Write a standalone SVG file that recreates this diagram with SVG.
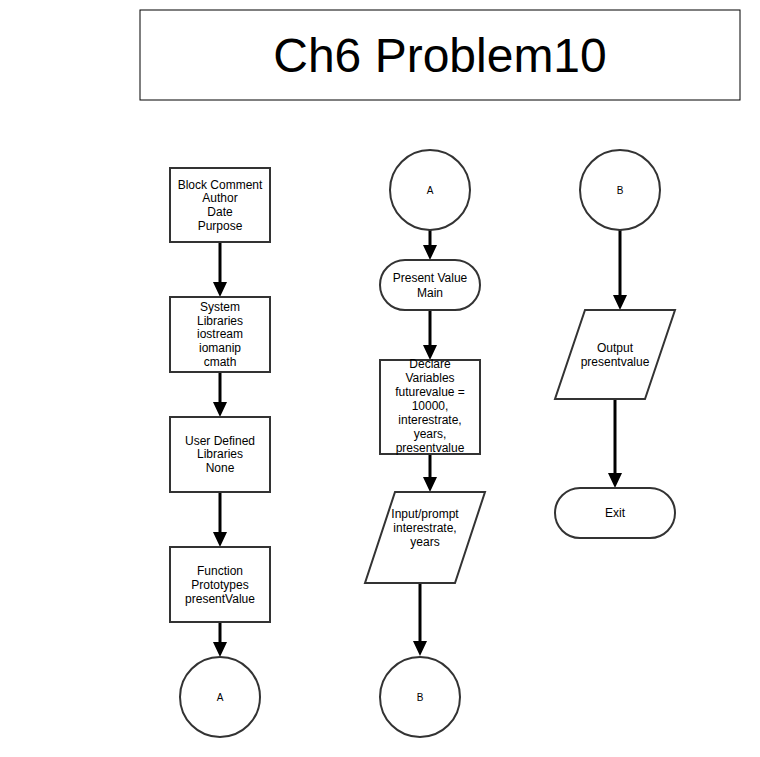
<svg xmlns="http://www.w3.org/2000/svg" width="760" height="757" viewBox="0 0 760 757">
<style>
.n{fill:#fff;stroke:#333;stroke-width:2}
.t{font-family:"Liberation Sans",Arial,sans-serif;font-size:12px;fill:#000;text-anchor:middle}
.c{font-family:"Liberation Sans",Arial,sans-serif;font-size:10px;fill:#000;text-anchor:middle}
.e{fill:none;stroke:#000;stroke-width:3}
</style>
<defs>
<marker id="ah" markerUnits="userSpaceOnUse" markerWidth="15" markerHeight="14" refX="5" refY="7" orient="auto">
<path d="M0,0 L15,7 L0,14 z" fill="#000"/>
</marker>
</defs>
<rect width="760" height="757" fill="#fff"/>
<g id="title">
<rect x="140" y="10" width="600" height="90" fill="#fff" stroke="#000" stroke-width="1"/>
<text x="440" y="72" font-family="'Liberation Sans',Arial,sans-serif" font-size="48" text-anchor="middle">Ch6 Problem10</text>
</g>
<g id="connectors">
<path class="e" d="M220,242 V287" marker-end="url(#ah)"/>
<path class="e" d="M220,372 V407" marker-end="url(#ah)"/>
<path class="e" d="M220,492 V537" marker-end="url(#ah)"/>
<path class="e" d="M220,622 V647" marker-end="url(#ah)"/>
<path class="e" d="M430,230 V250" marker-end="url(#ah)"/>
<path class="e" d="M430,310 V350" marker-end="url(#ah)"/>
<path class="e" d="M430,454 V482" marker-end="url(#ah)"/>
<path class="e" d="M420,583 V646" marker-end="url(#ah)"/>
<path class="e" d="M620,230 V300" marker-end="url(#ah)"/>
<path class="e" d="M615,399 V478" marker-end="url(#ah)"/>
</g>
<g id="block-comment">
<rect class="n" x="170" y="168" width="100" height="74"/>
<text class="t" x="220" y="188.7">Block Comment</text>
<text class="t" x="220" y="202.4">Author</text>
<text class="t" x="220" y="216.2">Date</text>
<text class="t" x="220" y="229.9">Purpose</text>
</g>
<g id="system-libraries">
<rect class="n" x="170" y="297" width="100" height="75"/>
<text class="t" x="220" y="310.8">System</text>
<text class="t" x="220" y="324.5">Libraries</text>
<text class="t" x="220" y="338.3">iostream</text>
<text class="t" x="220" y="352.1">iomanip</text>
<text class="t" x="220" y="365.8">cmath</text>
</g>
<g id="user-libraries">
<rect class="n" x="170" y="417" width="100" height="75"/>
<text class="t" x="220" y="444.5">User Defined</text>
<text class="t" x="220" y="458.3">Libraries</text>
<text class="t" x="220" y="472">None</text>
</g>
<g id="function-prototypes">
<rect class="n" x="170" y="547" width="100" height="75"/>
<text class="t" x="220" y="575">Function</text>
<text class="t" x="220" y="588.8">Prototypes</text>
<text class="t" x="220" y="602.5">presentValue</text>
</g>
<g id="connector-a-out">
<circle class="n" cx="220" cy="697" r="40"/>
<text class="c" x="220" y="701">A</text>
</g>
<g id="connector-a-in">
<circle class="n" cx="430" cy="190" r="40"/>
<text class="c" x="430" y="194">A</text>
</g>
<g id="main">
<rect class="n" x="380" y="260" width="100" height="50" rx="25" ry="25"/>
<text class="t" x="430" y="282">Present Value</text>
<text class="t" x="430" y="296.5">Main</text>
</g>
<g id="declare">
<rect class="n" x="380" y="360" width="100" height="94"/>
<text class="t" x="430" y="368.3">Declare</text>
<text class="t" x="430" y="382.2">Variables</text>
<text class="t" x="430" y="396.1">futurevalue =</text>
<text class="t" x="430" y="410">10000,</text>
<text class="t" x="430" y="423.9">interestrate,</text>
<text class="t" x="430" y="437.8">years,</text>
<text class="t" x="430" y="451.7">presentvalue</text>
</g>
<g id="input">
<polygon class="n" points="395,492 485,492 455,583 365,583"/>
<text class="t" x="425" y="518">Input/prompt</text>
<text class="t" x="425" y="532">interestrate,</text>
<text class="t" x="425" y="546">years</text>
</g>
<g id="connector-b-out">
<circle class="n" cx="420" cy="697" r="40"/>
<text class="c" x="420" y="701">B</text>
</g>
<g id="connector-b-in">
<circle class="n" cx="620" cy="190" r="40"/>
<text class="c" x="620" y="194">B</text>
</g>
<g id="output">
<polygon class="n" points="585,310 675,310 645,399 555,399"/>
<text class="t" x="615" y="352">Output</text>
<text class="t" x="615" y="366">presentvalue</text>
</g>
<g id="exit">
<rect class="n" x="555" y="488" width="120" height="50" rx="25" ry="25"/>
<text class="t" x="615" y="517">Exit</text>
</g>
</svg>
